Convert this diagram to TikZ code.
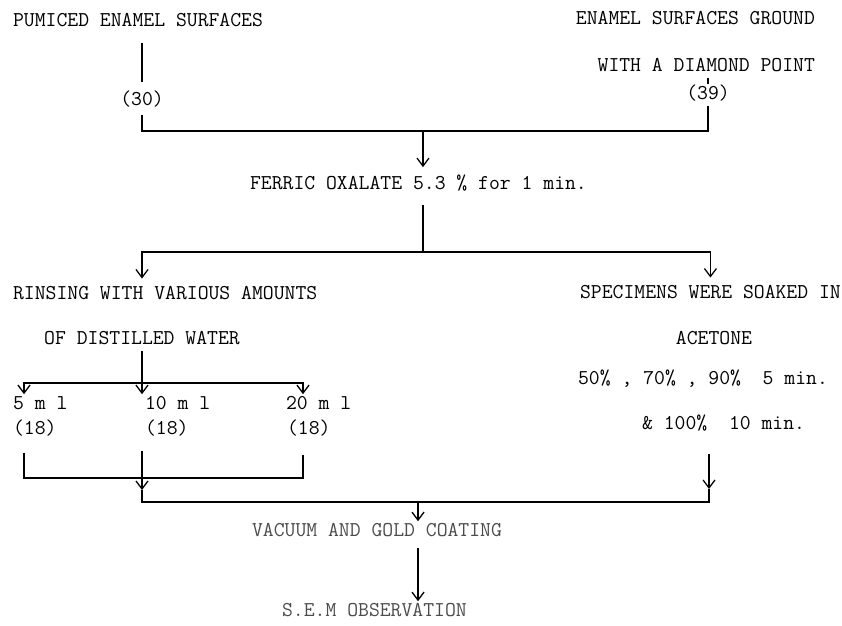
\documentclass[tikz,border=0pt]{standalone}
\usepackage{tikz}
\usetikzlibrary{positioning, arrows.meta}

\tikzset{
  txt/.style={font=\fontsize{15}{17}\selectfont\ttfamily, inner sep=2pt, text height=9pt, text depth=2pt},
  faint/.style={text=black!70},
  ln/.style={line width=0.9pt},
  arr/.style={ln, -{Straight Barb[length=2mm,width=3mm]}},
}

\begin{document}
\begin{tikzpicture}[x=0.025cm, y=-0.025cm]
  \useasboundingbox (0,0) rectangle (842,625);

  % starting surfaces
  \node[txt, anchor=west] (pumiced) at (10,22) {PUMICED ENAMEL SURFACES};
  \node[txt, anchor=east] (ground) at (818,20) {ENAMEL SURFACES GROUND};
  \node[txt, anchor=east] (diamond) at (818,67) {WITH A DIAMOND POINT};
  \node[txt] (n30) at (142,101) {(30)};
  \node[txt] (n39) at (708,95) {(39)};

  % etching
  \node[txt, anchor=west] (ferric) at (247,185) {FERRIC OXALATE 5.3 \% for 1 min.};

  % rinsing / soaking
  \node[txt, anchor=west] (rinsing) at (10,295) {RINSING WITH VARIOUS AMOUNTS};
  \node[txt] (distilled) at (142,340) {OF DISTILLED WATER};
  \node[txt, anchor=west] (soaked) at (577,294) {SPECIMENS WERE SOAKED IN};
  \node[txt] (acetone) at (714,340) {ACETONE};
  \node[txt, anchor=west] (pct) at (575,380) {50\% , 70\% , 90\%~~5 min.};
  \node[txt, anchor=west] (pcthun) at (639,425) {\& 100\%~~10 min.};

  \node[txt, anchor=west] (ml5) at (10,405) {5 m l};
  \node[txt, anchor=west] (ml10) at (142,405) {10 m l};
  \node[txt, anchor=west] (ml20) at (283,405) {20 m l};
  \node[txt, anchor=west] (ca) at (10,430) {(18)};
  \node[txt, anchor=west] (cb) at (142,430) {(18)};
  \node[txt, anchor=west] (cc) at (284,430) {(18)};

  % final steps
  \node[txt, faint, anchor=west] (vacuum) at (249,532) {VACUUM AND GOLD COATING};
  \node[txt, faint, anchor=west] (sem) at (279,612) {S.E.M OBSERVATION};

  % junctions
  \coordinate (jtop) at (423,131);
  \coordinate (jmid) at (423,252);
  \coordinate (jl) at (142,383);
  \coordinate (x5) at (24,383);
  \coordinate (x20) at (303,383);
  \coordinate (k5) at (24,478);
  \coordinate (k20) at (303,478);
  \coordinate (al) at (142,490);
  \coordinate (ar) at (709,489);
  \coordinate (jbl) at (142,502);
  \coordinate (jbr) at (709,502);
  \coordinate (jbot) at (418,502);

  \draw[ln, shorten <=7pt, shorten >=6pt] (pumiced.south -| n30) -- (n30.north);
  \draw[ln] (diamond.south -| n39) -- (n39.north);
  \draw[ln, shorten <=2pt] (n30.south) |- (jtop) -| (n39.south);
  \draw[arr, shorten >=5pt] (jtop) -- (ferric.north -| jtop);

  \draw[ln, shorten <=6.5pt] (ferric.south -| jmid) -- (jmid);
  \draw[arr, shorten >=4pt] (jmid) -| (rinsing.north -| distilled);
  \draw[arr, shorten >=4pt] (jmid) -| (soaked.north);

  \draw[ln] (distilled.south) -- (jl);
  \draw[arr] (jl) -| (x5 |- ml5.north);
  \draw[arr] (jl) -- (jl |- ml10.north);
  \draw[arr] (jl) -| (x20 |- ml20.north);

  \draw[ln, shorten <=8.5pt, shorten >=10pt] (k5 |- ca.south) -- (k5) -- (k20) -- (k20 |- cc.south);
  \draw[arr, shorten <=7pt] (jl |- cb.south) -- (al);
  \draw[ln] (al) -- (jbl) -- (jbr) -- (ar);
  \draw[arr, shorten <=13pt] (jbr |- pcthun.south) -- (ar);

  \draw[arr] (jbot) -- (vacuum.north -| jbot);
  \draw[arr, shorten <=4pt] (vacuum.south -| jbot) -- (sem.north -| jbot);
\end{tikzpicture}
\end{document}
